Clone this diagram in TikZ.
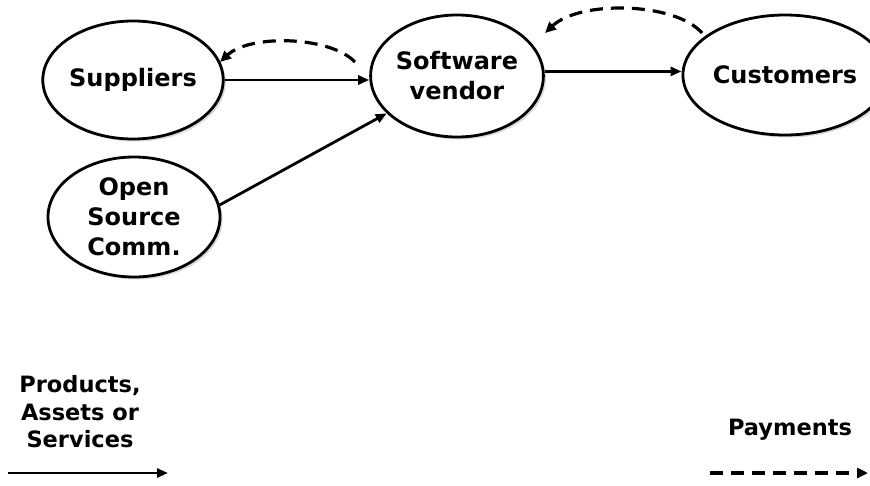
\documentclass[tikz,border=0pt]{standalone}
\usepackage{fontspec}
\setmainfont{DejaVu Sans}
\usetikzlibrary{arrows.meta,shadows,shapes.geometric}
\begin{document}
\begin{tikzpicture}[x=1pt,y=-1pt,
  actor/.style={draw,ellipse,line width=2.8pt,fill=white,
    minimum width=172pt,minimum height=118pt,inner sep=0pt,
    font=\bfseries\fontsize{24}{30}\selectfont,align=center,
    drop shadow={shadow xshift=2.5pt,shadow yshift=-2.5pt,opacity=0.3}},
  flow/.style={line width=2.8pt,-{Triangle[length=11pt,width=9pt]}},
  pay/.style={line width=3.2pt,dash pattern=on 13pt off 8pt,-{Triangle[length=11pt,width=10pt]}},
  legend/.style={font=\bfseries\fontsize{22.5}{27.5}\selectfont,align=center,inner sep=0pt}]
\useasboundingbox (0,0) rectangle (870,485);

\node[actor] (sup) at (133,80) {Suppliers};
\node[actor, minimum height=120pt] (osc) at (134,217) {Open\\Source\\Comm.};
\node[actor, minimum height=122pt] (ven) at (457,76) {Software\\vendor};
\node[actor, minimum width=166pt, minimum height=120pt] (cus) at (785,75) {Customers};

% goods and services flow
\draw[flow] (sup.east) -- (ven.west |- sup.east);
\draw[flow] (osc.8) -- (ven.-152);
\draw[flow] (ven.3) -- (cus.west |- ven.3);

% payments flow back
\coordinate (p1s) at ([xshift=-102pt,yshift=14pt]ven.center);
\coordinate (p1e) at ([xshift=87pt,yshift=18pt]sup.center);
\draw[pay] (p1s) .. controls (330,36) and (250,34) .. (p1e);
\coordinate (p2s) at ([xshift=-83pt,yshift=42pt]cus.center);
\coordinate (p2e) at ([xshift=88pt,yshift=43pt]ven.center);
\draw[pay] (p2s) .. controls (675,2) and (580,0) .. (p2e);

% legend
\node[legend] (lprod) at (80,412) {Products,\\Assets or\\Services};
\coordinate (ps) at (8,473);
\coordinate (pe) at (168,473);
\draw[flow] (ps) -- (pe);
\node[legend] (lpay) at (790,430) {Payments};
\coordinate (ds) at (710,473);
\coordinate (de) at (868,473);
\draw[pay] (ds) -- (de);
\end{tikzpicture}
\end{document}
